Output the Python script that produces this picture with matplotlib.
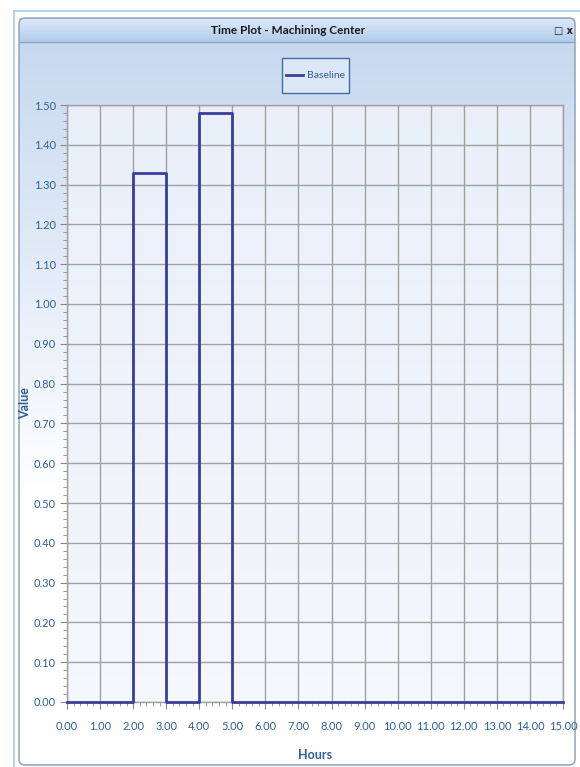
import numpy as np
import matplotlib
matplotlib.use('Agg')
import matplotlib.pyplot as plt
from matplotlib.patches import FancyBboxPatch, Rectangle
from matplotlib.ticker import MultipleLocator

# step data: value holds from each start hour until the next
hours = [0, 2, 3, 4, 5, 15]
values = [0.00, 1.33, 0.00, 1.48, 0.00, 0.00]
series_name = 'Baseline'
x_ticks = list(range(0, 16))
y_ticks = [0.0, 0.1, 0.2, 0.3, 0.4, 0.5, 0.6, 0.7, 0.8, 0.9, 1.0, 1.1, 1.2, 1.3, 1.4, 1.5]

FONT = ['Liberation Sans Narrow', 'Lato', 'DejaVu Sans']
plt.rcParams['font.family'] = FONT

W, H = 580, 767
fig = plt.figure(figsize=(W / 100, H / 100), dpi=100)
fig.patch.set_facecolor('white')


def fx(px):
    return px / W


def fy(py):
    return 1 - py / H


# background layer for the window chrome
bg = fig.add_axes([0, 0, 1, 1], zorder=-10)
bg.set_xlim(0, W)
bg.set_ylim(H, 0)
bg.axis('off')

# outer light blue frame lines
bg.plot([14, 14], [11, H], color='#a9cdee', lw=1.2)
bg.plot([14, W], [11, 11], color='#a9cdee', lw=1.2)

# window body gradient (blue at top to white)
grad = np.linspace(0, 1, 256).reshape(-1, 1)
top_c = np.array([0.78, 0.85, 0.94])
bot_c = np.array([1.0, 1.0, 1.0])
body = top_c + (bot_c - top_c) * np.clip(grad * 1.6, 0, 1)
body = body.reshape(256, 1, 3)
bg.imshow(body, extent=[19, 575, 765, 42], aspect='auto', zorder=1)

# title bar gradient
tgrad = np.linspace(0, 1, 64).reshape(-1, 1)
t_top = np.array([0.86, 0.92, 0.98])
t_bot = np.array([0.70, 0.80, 0.92])
tbar = (t_top + (t_bot - t_top) * tgrad).reshape(64, 1, 3)
bg.imshow(tbar, extent=[19, 575, 42, 18], aspect='auto', zorder=1)
bg.plot([19, 575], [42, 42], color='#8ea6c4', lw=1.0, zorder=2)

frame = FancyBboxPatch((19, 18), 556, 747, boxstyle='round,pad=0,rounding_size=6',
                       fc='none', ec='#9aaabb', lw=1.2, zorder=3)
bg.add_patch(frame)

bg.text(288, 30, 'Time Plot - Machining Center', ha='center', va='center',
        fontsize=8.5, fontweight='bold', color='#1a1a1a', zorder=4)
bg.text(563, 31, '\u25a1 x', ha='center', va='center', fontsize=7,
        fontweight='bold', color='#222222', zorder=4, family=['DejaVu Sans'])

# legend box
bg.add_patch(Rectangle((282, 58), 67, 35, fc='#dce8f6', ec='#3f6fa8', lw=1.0, zorder=4))

# plot area
ax = fig.add_axes([fx(67), fy(702), fx(563) - fx(67), fy(105) - fy(702)])
pgrad = np.linspace(0, 1, 256).reshape(-1, 1)
p_top = np.array([0.91, 0.94, 0.98])
p_bot = np.array([0.96, 0.97, 0.99])
parea = (p_top + (p_bot - p_top) * pgrad).reshape(256, 1, 3)
ax.imshow(parea, extent=[0, 15, 0, 1.5], aspect='auto', zorder=0)

line, = ax.step(hours, values, where='post', color='#3c3c9c', lw=2.0, zorder=3,
                label=series_name, clip_on=False)

ax.set_xlim(0, 15)
ax.set_ylim(0, 1.5)
ax.set_xticks(x_ticks)
ax.set_yticks(y_ticks)
ax.set_xticklabels([f'{v:.2f}' for v in x_ticks])
ax.set_yticklabels([f'{v:.2f}' for v in y_ticks])
ax.xaxis.set_minor_locator(MultipleLocator(0.2))
ax.yaxis.set_minor_locator(MultipleLocator(0.02))
ax.grid(True, which='major', color='#a0a0a0', lw=1.0, zorder=1)
ax.set_axisbelow(True)
ax.tick_params(which='major', direction='out', length=5, color='#8a8a8a',
               labelcolor='#2e5f9a', labelsize=8, pad=3)
ax.tick_params(which='minor', direction='out', length=3, color='#8a8a8a')
ax.tick_params(axis='x', pad=9)
for s in ax.spines.values():
    s.set_color('#a0a0a0')
    s.set_linewidth(1.0)

ax.set_xlabel('Hours', fontsize=9, fontweight='bold', color='#2e5f9a', labelpad=12)
ax.set_ylabel('Value', fontsize=9, fontweight='bold', color='#2e5f9a', labelpad=2)

leg = fig.legend(handles=[line], loc='center', bbox_to_anchor=(fx(315.5), fy(75.5)),
                 frameon=False, fontsize=7.5, handlelength=1.6, handletextpad=0.4,
                 borderpad=0.0, borderaxespad=0.0)
for t in leg.get_texts():
    t.set_color('#2e5f9a')

fig.savefig('out.png', dpi=100)
